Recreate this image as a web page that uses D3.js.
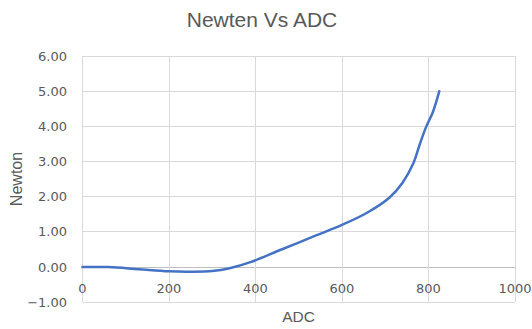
<!DOCTYPE html>
<html><head><meta charset="utf-8">
<script src="https://cdn.jsdelivr.net/npm/d3@7"></script>
<style>body{margin:0;background:#fff;} svg{display:block;}</style>
</head><body>
<script>
const adc =    [0, 60, 130, 200, 250, 300, 340, 390, 460, 540, 600, 660, 710, 740, 765, 780, 795, 810, 825];
const newton = [0, 0, -0.06, -0.12, -0.13, -0.11, -0.03, 0.15, 0.5, 0.9, 1.2, 1.56, 1.98, 2.4, 2.95, 3.5, 4.0, 4.4, 5.0];
const xTicks = [0, 200, 400, 600, 800, 1000];
const yTicks = [-1, 0, 1, 2, 3, 4, 5, 6];
const title = "Newten Vs ADC", xTitle = "ADC", yTitle = "Newton";

const W = 532, H = 329;
const svg = d3.select("body").append("svg").attr("width", W).attr("height", H);
const x = d3.scaleLinear().domain([0, 1000]).range([82.5, 515]);
const y = d3.scaleLinear().domain([-1, 6]).range([302.3, 56]);
const txt = "#595959", grid = "#d9d9d9";

// gridlines
svg.append("g").selectAll("line").data(yTicks).join("line")
  .attr("x1", x(0)).attr("x2", x(1000)).attr("y1", d => y(d)).attr("y2", d => y(d))
  .attr("stroke", d => d === 0 ? "#bfbfbf" : grid).attr("stroke-width", 1).attr("shape-rendering", "crispEdges");
svg.append("g").selectAll("line").data(xTicks).join("line")
  .attr("x1", d => x(d)).attr("x2", d => x(d)).attr("y1", y(6)).attr("y2", y(-1))
  .attr("stroke", grid).attr("stroke-width", 1).attr("shape-rendering", "crispEdges");

// y tick labels
svg.append("g").selectAll("text").data(yTicks).join("text")
  .attr("x", 67).attr("y", d => y(d)).attr("dy", "0.35em").attr("text-anchor", "end")
  .attr("font-family", "DejaVu Sans").attr("font-size", 13).attr("fill", txt)
  .text(d => d3.format(".2f")(d));
// x tick labels (at the zero line)
svg.append("g").selectAll("text").data(xTicks).join("text")
  .attr("x", d => x(d)).attr("y", y(0) + 21).attr("dy", "0.35em").attr("text-anchor", "middle")
  .attr("font-family", "DejaVu Sans").attr("font-size", 13).attr("fill", txt)
  .text(d => d);

// line
const pts = adc.map((a, i) => [a, newton[i]]);
svg.append("path").datum(pts)
  .attr("d", d3.line().x(d => x(d[0])).y(d => y(d[1])).curve(d3.curveCatmullRom.alpha(0.5)))
  .attr("fill", "none").attr("stroke", "#4472C4").attr("stroke-width", 2.5).attr("stroke-linecap", "round");

// titles
svg.append("text").attr("x", 262).attr("y", 26.5).attr("text-anchor", "middle")
  .attr("font-family", "Liberation Sans").attr("font-size", 21).attr("fill", txt).text(title);
svg.append("text").attr("x", 298.5).attr("y", 317).attr("dy", "0.35em").attr("text-anchor", "middle")
  .attr("font-family", "Liberation Sans").attr("font-size", 15.5).attr("fill", txt).text(xTitle);
svg.append("text").attr("transform", "translate(16,179) rotate(-90)").attr("dy", "0.35em").attr("text-anchor", "middle")
  .attr("font-family", "Liberation Sans").attr("font-size", 16).attr("fill", txt).text(yTitle);
</script>
</body></html>
